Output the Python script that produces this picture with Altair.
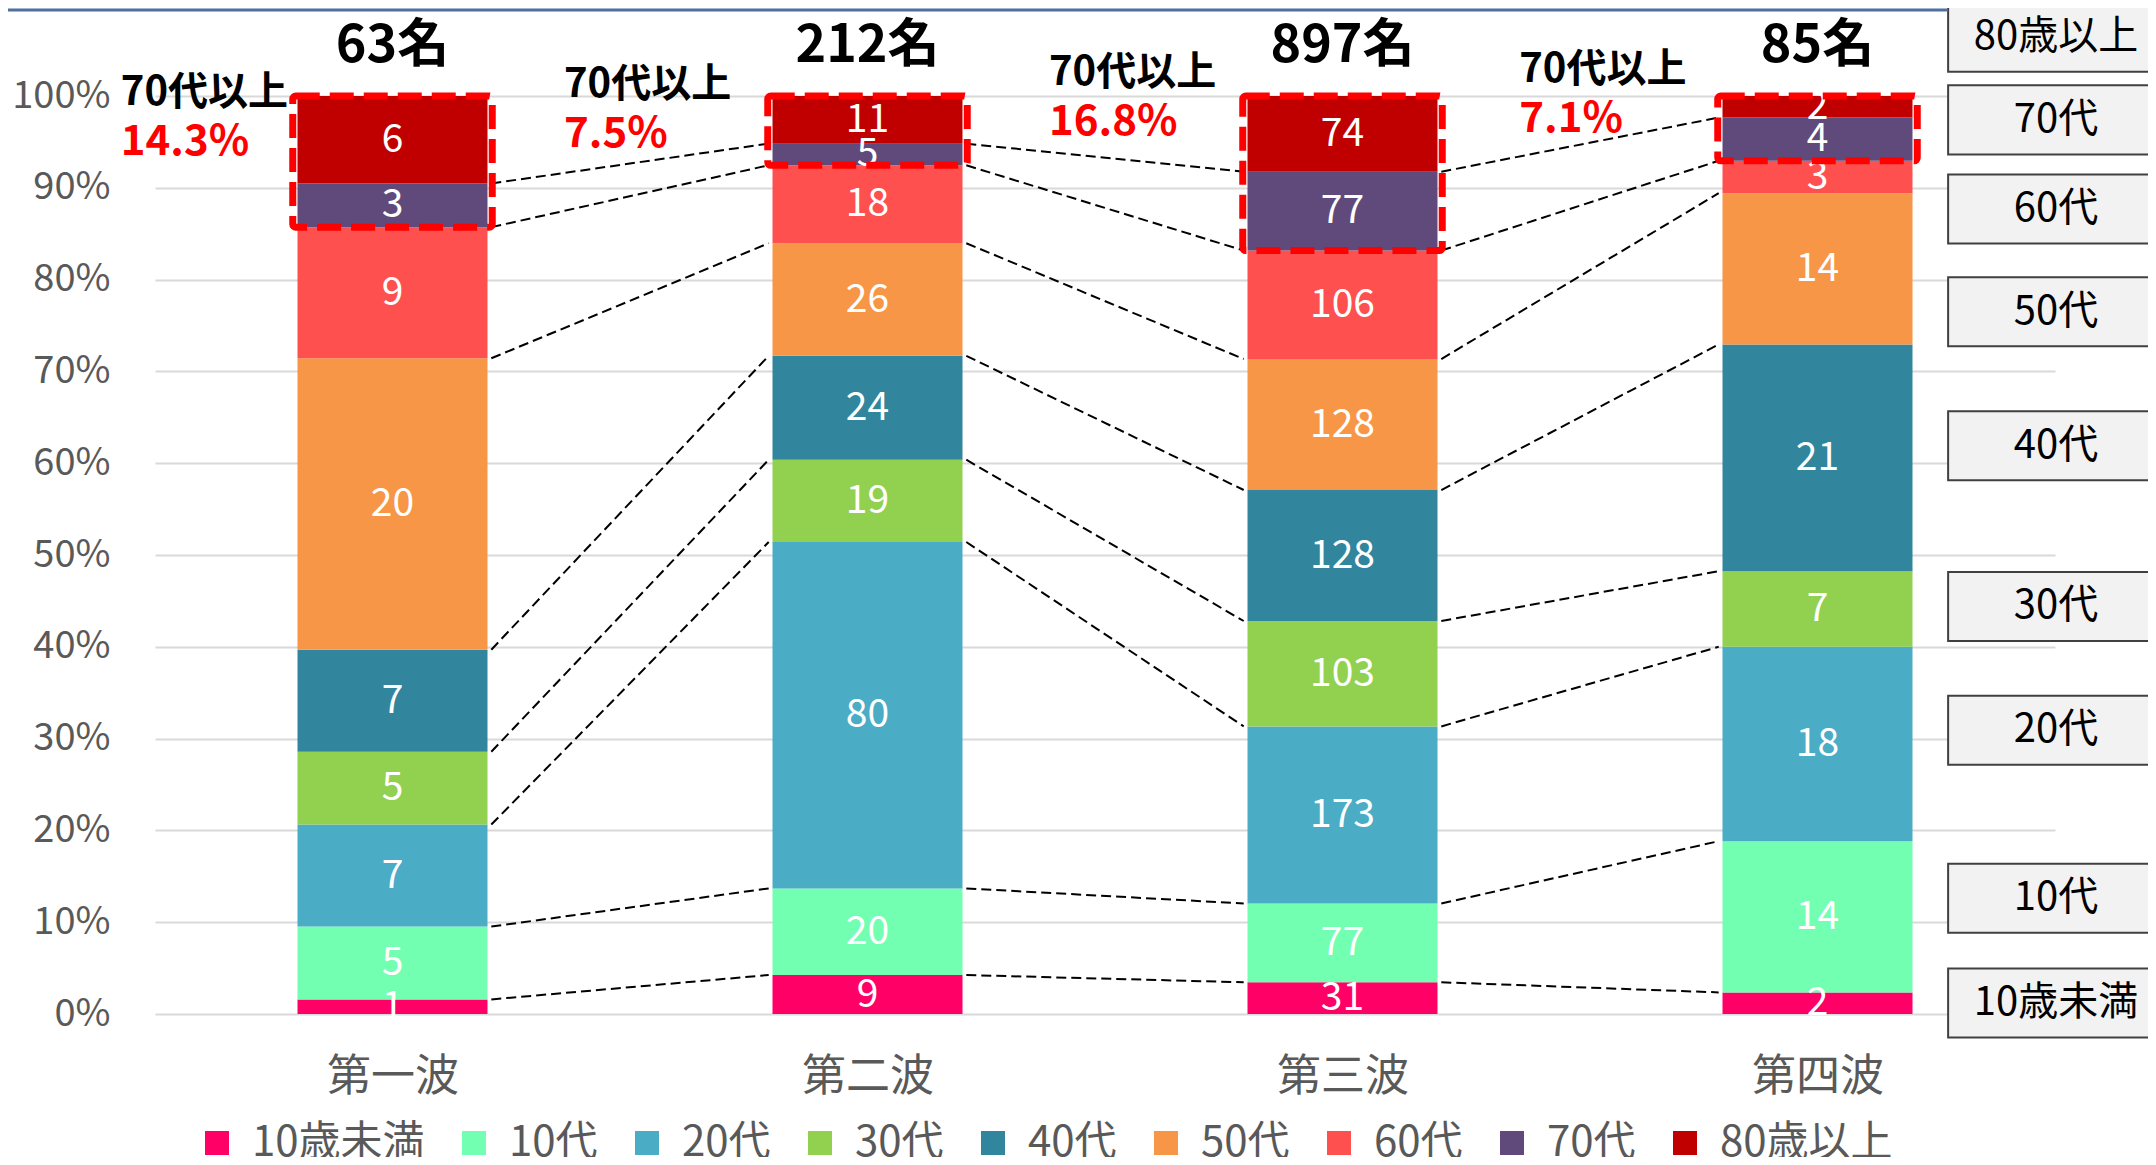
import json
import altair as alt
import pandas as pd

# ---------------- data ----------------
waves = ["第一波", "第二波", "第三波", "第四波"]
groups = ["10歳未満", "10代", "20代", "30代", "40代", "50代", "60代", "70代", "80歳以上"]
wave1 = [1, 5, 7, 5, 7, 20, 9, 3, 6]
wave2 = [9, 20, 80, 19, 24, 26, 18, 5, 11]
wave3 = [31, 77, 173, 103, 128, 128, 106, 77, 74]
wave4 = [2, 14, 18, 7, 21, 14, 3, 4, 2]
counts = [wave1, wave2, wave3, wave4]
colors = ["#FF0066", "#73FFB1", "#4BACC6", "#92D050", "#31859C",
          "#F79646", "#FF5050", "#604A7B", "#C00000"]

# ---------------- layout (annotation anchors, data units) ----------------
side_label_y = [0.012, 0.126, 0.309, 0.444, 0.619, 0.765, 0.877, 0.974, 1.064]
note_x = [-0.072, 0.861, 1.882, 2.872]
note_y = [1.003, 1.012, 1.025, 1.028]
BAR_HALF = 0.2
FONT = "Noto Sans CJK JP"

# ---------------- tables ----------------
seg_rows = []
cums = []
for i, vals in enumerate(counts):
    total = sum(vals)
    c = 0
    cum = []
    for g, v in zip(groups, vals):
        y0 = c / total
        c += v
        y1 = c / total
        cum.append(y1)
        seg_rows.append(dict(wave=waves[i], pos=i + 0.5, xl=i + 0.5 - BAR_HALF,
                             xr=i + 0.5 + BAR_HALF, group=g, value=v,
                             y0=y0, y1=y1, mid=(y0 + y1) / 2))
    cums.append(cum)
seg = pd.DataFrame(seg_rows)

con_rows = []
gap = 0.008
for i in range(len(waves) - 1):
    for k in range(len(groups) - 1):
        con_rows.append(dict(xa=i + 0.5 + BAR_HALF + gap, xb=i + 1.5 - BAR_HALF - gap,
                             ya=cums[i][k], yb=cums[i + 1][k]))
con = pd.DataFrame(con_rows)

box_rows = []
for i, vals in enumerate(counts):
    box_rows.append(dict(xl=i + 0.5 - 0.21, xr=i + 0.5 + 0.21, y0=cums[i][6], y1=1.0))
boxes = pd.DataFrame(box_rows)

tot_rows = []
for i, vals in enumerate(counts):
    total = sum(vals)
    pct = (vals[7] + vals[8]) / total * 100
    tot_rows.append(dict(pos=i + 0.5, top=1.0, total=f"{total}名",
                         nx=note_x[i], ny=note_y[i], pct=f"{pct:.1f}%"))
tots = pd.DataFrame(tot_rows)

side = pd.DataFrame(dict(group=groups, yc=side_label_y))
side["ya"] = side["yc"] - 0.0376
side["yb"] = side["yc"] + 0.0376
side["xa"] = 3.775
side["xb"] = 4.23
side["xc"] = 4.002

# ---------------- scales / axes ----------------
xs = alt.Scale(domain=[0, 4], nice=False, zero=False)
ys = alt.Scale(domain=[0, 1], nice=False, zero=False)
label_expr = json.dumps(waves, ensure_ascii=False) + "[floor(datum.value)]"
xaxis = alt.Axis(values=[0.5, 1.5, 2.5, 3.5], labelExpr=label_expr, grid=False,
                 domain=False, ticks=False, title=None, labelFontSize=44,
                 labelColor="#595959", labelPadding=41, labelFont=FONT)
yaxis = alt.Axis(values=[i / 10 for i in range(11)], format=".0%", grid=True,
                 gridColor="#D9D9D9", gridWidth=2, domain=False, ticks=False,
                 title=None, labelFontSize=38, labelColor="#595959",
                 labelPadding=45, labelFont=FONT)

def X(f):
    return alt.X(f, type="quantitative", scale=xs, axis=xaxis)

def Y(f):
    return alt.Y(f, type="quantitative", scale=ys, axis=yaxis)

base = alt.Chart(seg)

bars = base.mark_bar(stroke=None).encode(
    x=X("xl"), x2="xr", y=Y("y0"), y2="y1",
    color=alt.Color("group:N", scale=alt.Scale(domain=groups, range=colors),
                    legend=alt.Legend(orient="none", legendX=41, legendY=1026,
                                      direction="horizontal", columns=9, title=None,
                                      symbolType="square", symbolSize=576,
                                      symbolStrokeWidth=0, labelFontSize=42,
                                      labelFont=FONT, labelColor="#595959",
                                      labelLimit=400, columnPadding=28,
                                      labelOffset=14, padding=0)),
)

seg_labels = base.mark_text(color="white", fontSize=39, baseline="middle").encode(
    x=X("pos"), y=Y("mid"), text="value:Q"
)

red_boxes = alt.Chart(boxes).mark_rect(
    fill="#FF0000", fillOpacity=0, stroke="#FF0000", strokeWidth=7,
    strokeDash=[24, 10], cornerRadius=3
).encode(x=X("xl"), x2="xr", y=Y("y0"), y2="y1")

connectors = alt.Chart(con).mark_rule(
    color="black", strokeWidth=2, strokeDash=[10, 5]
).encode(x=X("xa"), x2="xb", y=Y("ya"), y2="yb")

totals = alt.Chart(tots).mark_text(
    fontSize=52, fontWeight="bold", color="black", baseline="middle", dy=-50
).encode(x=X("pos"), y=Y("top"), text="total:N")

note_head = alt.Chart(tots).mark_text(
    fontSize=40, fontWeight="bold", color="black", baseline="middle", align="left"
).encode(x=X("nx"), y=Y("ny"), text=alt.value("70代以上"))

note_pct = alt.Chart(tots).mark_text(
    fontSize=42, fontWeight="bold", color="#FF0000", baseline="middle",
    align="left", dy=49
).encode(x=X("nx"), y=Y("ny"), text="pct:N")

side_boxes = alt.Chart(side).mark_rect(
    fill="#F2F2F2", stroke="#404040", strokeWidth=2
).encode(x=X("xa"), x2="xb", y=Y("ya"), y2="yb")

side_text = alt.Chart(side).mark_text(
    fontSize=40, color="black", baseline="middle"
).encode(x=X("xc"), y=Y("yc"), text="group:N")

top_line = alt.Chart(pd.DataFrame({"k": [0]})).mark_rule(
    color="#4F6FA0", strokeWidth=3
).encode(x=alt.value(-147), x2=alt.value(1793), y=alt.value(-86))

chart = alt.layer(
    bars, seg_labels, connectors, red_boxes, totals, note_head, note_pct,
    side_boxes, side_text, top_line
).properties(
    width=1900, height=918,
    padding={"left": 147, "top": 88, "right": 93, "bottom": 143},
    autosize=alt.AutoSizeParams(type="none"),
).configure(font=FONT).configure_view(stroke=None)

chart.save("out.html", embed_options={"renderer": "svg", "actions": False})
